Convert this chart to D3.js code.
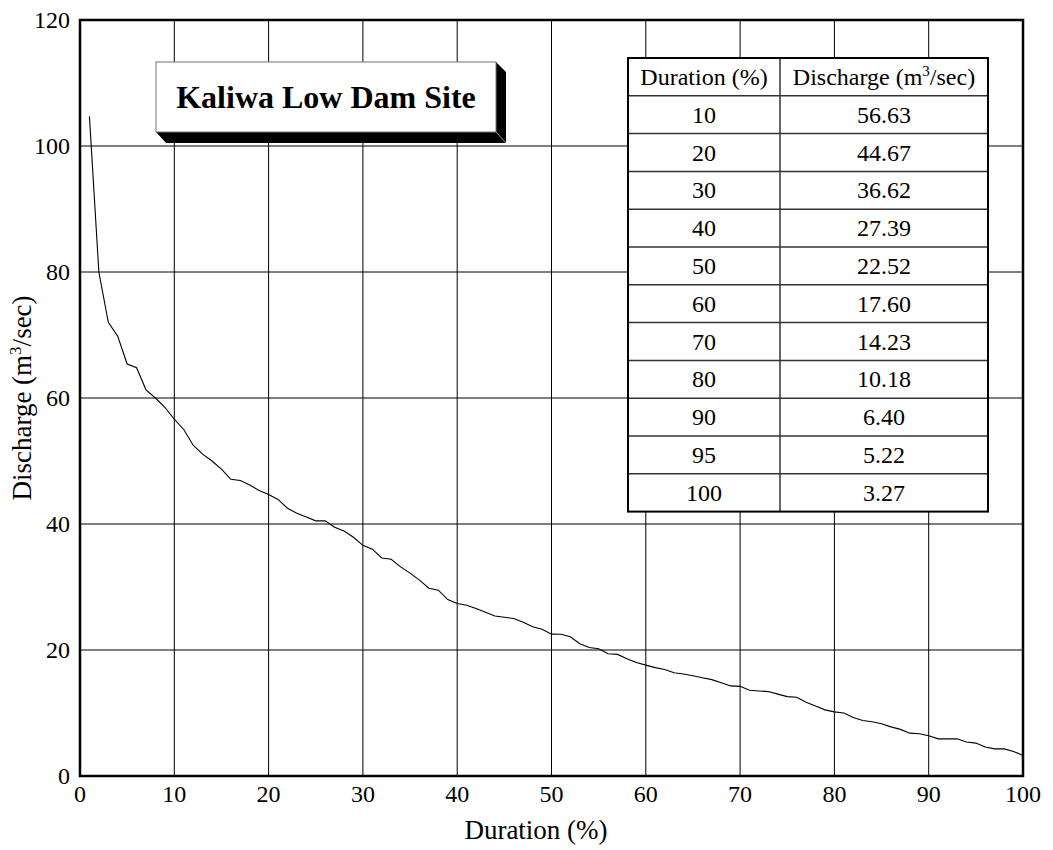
<!DOCTYPE html>
<html>
<head>
<meta charset="utf-8">
<script src="https://cdn.jsdelivr.net/npm/d3@7"></script>
<style>
  body { margin: 0; background: white; }
  text { font-family: "Liberation Serif", "Times New Roman", serif; }
</style>
</head>
<body>
<script>
// Curva de duração (leitura do gráfico, de 1% em 1%)
const duration = d3.range(1, 101);
const discharge = [
  104.7, 80.0, 72.0, 69.8, 65.4, 64.8, 61.3, 60.0, 58.5, 56.63,
  55.0, 52.5, 51.1, 50.0, 48.7, 47.1, 46.9, 46.2, 45.3, 44.67,
  43.9, 42.5, 41.7, 41.1, 40.5, 40.5, 39.5, 38.9, 37.9, 36.62,
  36.0, 34.6, 34.4, 33.2, 32.2, 31.1, 29.8, 29.5, 28.0, 27.39,
  27.1, 26.6, 26.0, 25.4, 25.2, 25.0, 24.4, 23.7, 23.3, 22.52,
  22.5, 22.1, 21.0, 20.4, 20.2, 19.4, 19.3, 18.6, 18.0, 17.60,
  17.2, 16.9, 16.4, 16.2, 15.9, 15.6, 15.3, 14.8, 14.3, 14.23,
  13.6, 13.5, 13.4, 13.0, 12.6, 12.5, 11.7, 11.1, 10.5, 10.18,
  10.0, 9.3, 8.8, 8.6, 8.3, 7.8, 7.4, 6.8, 6.7, 6.40,
  5.9, 5.9, 5.9, 5.4, 5.22, 4.6, 4.3, 4.3, 3.9, 3.27
];

// Tabela
const tableDuration = ["10", "20", "30", "40", "50", "60", "70", "80", "90", "95", "100"];
const tableDischarge = ["56.63", "44.67", "36.62", "27.39", "22.52", "17.60", "14.23", "10.18", "6.40", "5.22", "3.27"];

const xTicks = [0, 10, 20, 30, 40, 50, 60, 70, 80, 90, 100];
const yTicks = [0, 20, 40, 60, 80, 100, 120];

const width = 1053;
const height = 850;
const margin = { top: 20, right: 30, bottom: 74, left: 80 };
const fs = "24px";
const fsTitle = "27px";

const svg = d3.select("body")
  .append("svg")
  .attr("width", width)
  .attr("height", height);

const x = d3.scaleLinear().domain([0, 100]).range([margin.left, width - margin.right]);
const y = d3.scaleLinear().domain([0, 120]).range([height - margin.bottom, margin.top]);

// grade
svg.append("g")
  .selectAll("line")
  .data(xTicks)
  .join("line")
  .attr("x1", d => x(d)).attr("x2", d => x(d))
  .attr("y1", y(0)).attr("y2", y(120))
  .attr("stroke", "black")
  .attr("stroke-width", 1);

svg.append("g")
  .selectAll("line")
  .data(yTicks)
  .join("line")
  .attr("x1", x(0)).attr("x2", x(100))
  .attr("y1", d => y(d)).attr("y2", d => y(d))
  .attr("stroke", "black")
  .attr("stroke-width", 1);

// rótulos dos eixos
svg.append("g")
  .selectAll("text")
  .data(xTicks)
  .join("text")
  .attr("x", d => x(d))
  .attr("y", y(0) + 26)
  .attr("text-anchor", "middle")
  .attr("font-size", fs)
  .text(d => d);

svg.append("g")
  .selectAll("text")
  .data(yTicks)
  .join("text")
  .attr("x", x(0) - 10)
  .attr("y", d => y(d))
  .attr("text-anchor", "end")
  .attr("dominant-baseline", "central")
  .attr("font-size", fs)
  .text(d => d);

svg.append("text")
  .attr("x", 536)
  .attr("y", 839)
  .attr("text-anchor", "middle")
  .attr("font-size", fsTitle)
  .text("Duration (%)");

const yTitle = svg.append("text")
  .attr("transform", `translate(31, ${(y(0) + y(120)) / 2}) rotate(-90)`)
  .attr("text-anchor", "middle")
  .attr("font-size", fsTitle);
yTitle.append("tspan").text("Discharge (m");
yTitle.append("tspan").attr("font-size", "17px").attr("dy", -10).text("3");
yTitle.append("tspan").attr("dy", 10).text("/sec)");

// curva
const line = d3.line()
  .x((d, i) => x(duration[i]))
  .y(d => y(d));

svg.append("path")
  .datum(discharge)
  .attr("d", line)
  .attr("fill", "none")
  .attr("stroke", "black")
  .attr("stroke-width", 1.1);

// moldura
svg.append("rect")
  .attr("x", x(0))
  .attr("y", y(120))
  .attr("width", x(100) - x(0))
  .attr("height", y(0) - y(120))
  .attr("fill", "none")
  .attr("stroke", "black")
  .attr("stroke-width", 2.5);

// caixa do título (3D)
const bx = 156, by = 62, bw = 340, bh = 70, dep = 10;
svg.append("polygon")
  .attr("points", [
    [bx + bw, by], [bx + bw + dep, by + dep], [bx + bw + dep, by + bh + dep + 1],
    [bx + dep, by + bh + dep + 1], [bx, by + bh], [bx + bw, by + bh]
  ].map(p => p.join(",")).join(" "))
  .attr("fill", "black");

svg.append("rect")
  .attr("x", bx).attr("y", by)
  .attr("width", bw).attr("height", bh)
  .attr("fill", "white")
  .attr("stroke", "#777")
  .attr("stroke-width", 1);

svg.append("line")
  .attr("x1", bx + bw).attr("y1", by + bh)
  .attr("x2", bx + bw + dep).attr("y2", by + bh + dep + 1)
  .attr("stroke", "#999");

svg.append("text")
  .attr("x", bx + bw / 2)
  .attr("y", by + bh / 2 + 11)
  .attr("text-anchor", "middle")
  .attr("font-size", "32px")
  .attr("font-weight", "bold")
  .text("Kaliwa Low Dam Site");

// tabela
const tx = 628, ty = 58, colW = [152, 208], rowH = 37.8;
const rows = tableDuration.length + 1;

const table = svg.append("g");

table.append("rect")
  .attr("x", tx).attr("y", ty)
  .attr("width", colW[0] + colW[1])
  .attr("height", rowH * rows)
  .attr("fill", "white");

table.selectAll("line.row")
  .data(d3.range(1, rows))
  .join("line")
  .attr("class", "row")
  .attr("x1", tx).attr("x2", tx + colW[0] + colW[1])
  .attr("y1", d => ty + d * rowH).attr("y2", d => ty + d * rowH)
  .attr("stroke", "#333")
  .attr("stroke-width", 1.5);

table.append("line")
  .attr("x1", tx + colW[0]).attr("x2", tx + colW[0])
  .attr("y1", ty).attr("y2", ty + rowH * rows)
  .attr("stroke", "#333")
  .attr("stroke-width", 1.5);

table.append("rect")
  .attr("x", tx).attr("y", ty)
  .attr("width", colW[0] + colW[1])
  .attr("height", rowH * rows)
  .attr("fill", "none")
  .attr("stroke", "black")
  .attr("stroke-width", 2);

table.append("text")
  .attr("x", tx + colW[0] / 2)
  .attr("y", ty + rowH / 2)
  .attr("text-anchor", "middle")
  .attr("dominant-baseline", "central")
  .attr("font-size", fs)
  .text("Duration (%)");

const head2 = table.append("text")
  .attr("x", tx + colW[0] + colW[1] / 2)
  .attr("y", ty + rowH / 2 + 8)
  .attr("text-anchor", "middle")
  .attr("font-size", fs);
head2.append("tspan").text("Discharge (m");
head2.append("tspan").attr("font-size", "15px").attr("dy", -9).text("3");
head2.append("tspan").attr("dy", 9).text("/sec)");

table.selectAll("text.dur")
  .data(tableDuration)
  .join("text")
  .attr("class", "dur")
  .attr("x", tx + colW[0] / 2)
  .attr("y", (d, i) => ty + (i + 1.5) * rowH)
  .attr("text-anchor", "middle")
  .attr("dominant-baseline", "central")
  .attr("font-size", fs)
  .text(d => d);

table.selectAll("text.dis")
  .data(tableDischarge)
  .join("text")
  .attr("class", "dis")
  .attr("x", tx + colW[0] + colW[1] / 2)
  .attr("y", (d, i) => ty + (i + 1.5) * rowH)
  .attr("text-anchor", "middle")
  .attr("dominant-baseline", "central")
  .attr("font-size", fs)
  .text(d => d);
</script>
</body>
</html>
